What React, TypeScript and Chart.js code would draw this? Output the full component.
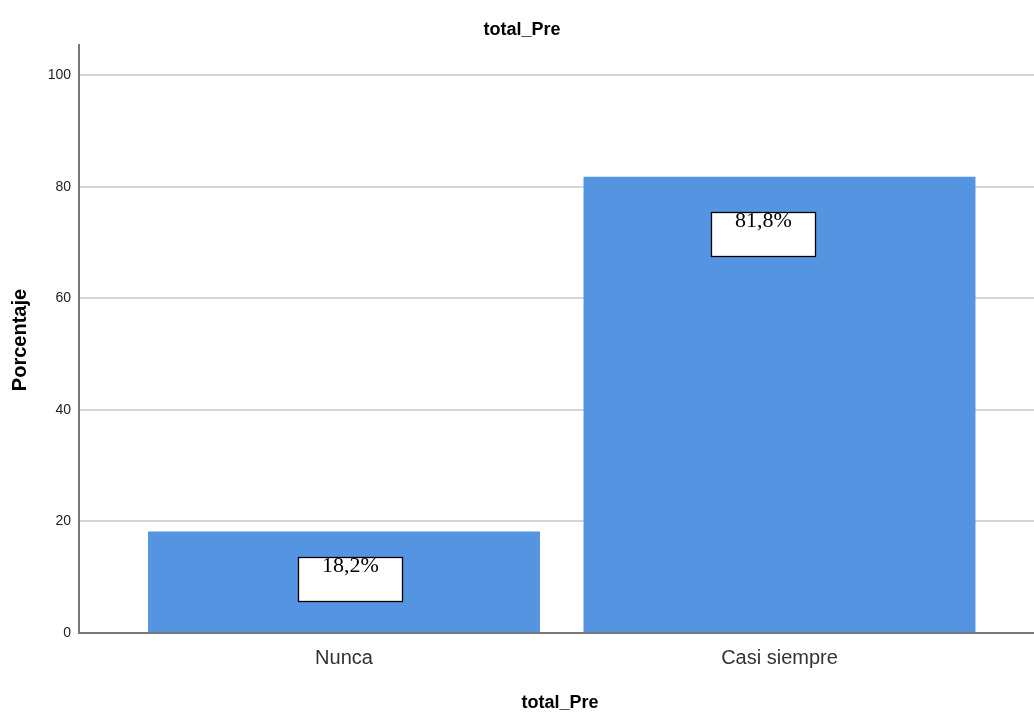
import React, { useEffect, useRef } from "react";
import { Chart, registerables } from "chart.js";

Chart.register(...registerables);

const categories = ["Nunca", "Casi siempre"];
const percentages = [18.2, 81.8];
const valueLabels = ["18,2%", "81,8%"];
const yTickValues = [0, 20, 40, 60, 80, 100];
const labelTopValue = [13.6, 75.4];
const labelDx = [6, -16];

const chartTitle = "total_Pre";
const xAxisTitle = "total_Pre";
const yAxisTitle = "Porcentaje";

const BAR_COLOR = "#5594E1";
const SANS = "'Liberation Sans', Arial, sans-serif";
const SERIF = "'Liberation Serif', 'Times New Roman', serif";

const overlayPlugin = {
  id: "overlay",
  afterDatasetsDraw(chart: any) {
    const ctx = chart.ctx;
    const x = chart.scales.x;
    const y = chart.scales.y;
    ctx.save();
    categories.forEach((_, i) => {
      const cx = x.getPixelForValue(i + 1) + labelDx[i];
      const top = Math.round(y.getPixelForValue(labelTopValue[i])) + 0.5;
      const w = 104;
      const h = 44;
      const left = Math.round(cx - w / 2) + 0.5;
      ctx.fillStyle = "#ffffff";
      ctx.fillRect(left, top, w, h);
      ctx.strokeStyle = "#000000";
      ctx.lineWidth = 1.3;
      ctx.strokeRect(left, top, w, h);
      ctx.fillStyle = "#000000";
      ctx.font = `22px ${SERIF}`;
      ctx.textAlign = "center";
      ctx.textBaseline = "alphabetic";
      ctx.fillText(valueLabels[i], left + w / 2, top + 14);
    });
    ctx.restore();
  },
  afterDraw(chart: any) {
    const ctx = chart.ctx;
    ctx.save();
    ctx.fillStyle = "#000000";
    ctx.textAlign = "center";
    ctx.textBaseline = "alphabetic";
    ctx.font = `bold 18px ${SANS}`;
    ctx.fillText(chartTitle, 522, 35);
    ctx.fillText(xAxisTitle, 560, 708);
    ctx.translate(26, 340);
    ctx.rotate(-Math.PI / 2);
    ctx.font = `bold 20px ${SANS}`;
    ctx.fillText(yAxisTitle, 0, 0);
    ctx.restore();
  },
};

export default function App() {
  const canvasRef = useRef<HTMLCanvasElement | null>(null);

  useEffect(() => {
    if (!canvasRef.current) return;
    const chart = new Chart(canvasRef.current, {
      type: "bar",
      data: {
        datasets: [
          {
            data: categories.map((_, i) => ({ x: i + 1, y: percentages[i] })) as any,
            backgroundColor: BAR_COLOR,
            borderWidth: 0,
            barPercentage: 0.9,
            categoryPercentage: 1,
          },
        ],
      },
      options: {
        responsive: false,
        animation: false,
        layout: { padding: { top: 45, right: 0, left: 0, bottom: 0 } },
        plugins: {
          legend: { display: false },
          title: { display: false },
          tooltip: { enabled: false },
        },
        scales: {
          x: {
            type: "linear",
            offset: false,
            bounds: "data",
            min: 0.3915,
            max: 2.5844,
            afterBuildTicks: (scale: any) => {
              scale.ticks = categories.map((_, i) => ({ value: i + 1 }));
            },
            afterFit: (scale: any) => {
              scale.height = 83;
            },
            grid: { display: false, drawTicks: false, offset: false },
            border: { display: true, color: "#777777", width: 2 },
            ticks: {
              padding: 13,
              color: "#333333",
              font: { family: SANS, size: 20 },
              callback: (v: any) => categories[Number(v) - 1] ?? "",
            },
          },
          y: {
            type: "linear",
            min: 0,
            max: 105.4,
            afterBuildTicks: (scale: any) => {
              scale.ticks = yTickValues.map((v) => ({ value: v }));
            },
            afterFit: (scale: any) => {
              scale.width = 79;
            },
            grid: { color: "#d6d6d6", lineWidth: 2, drawTicks: false },
            border: { display: true, color: "#777777", width: 2 },
            ticks: {
              padding: 8,
              color: "#222222",
              font: { family: SANS, size: 14 },
              callback: (v: any) => String(v),
            },
          },
        },
      } as any,
      plugins: [overlayPlugin],
    });
    return () => chart.destroy();
  }, []);

  return (
    <div style={{ position: "absolute", left: 0, top: 0, width: 1034, height: 716, background: "#ffffff" }}>
      <canvas ref={canvasRef} width={1034} height={716} style={{ display: "block" }} />
    </div>
  );
}
